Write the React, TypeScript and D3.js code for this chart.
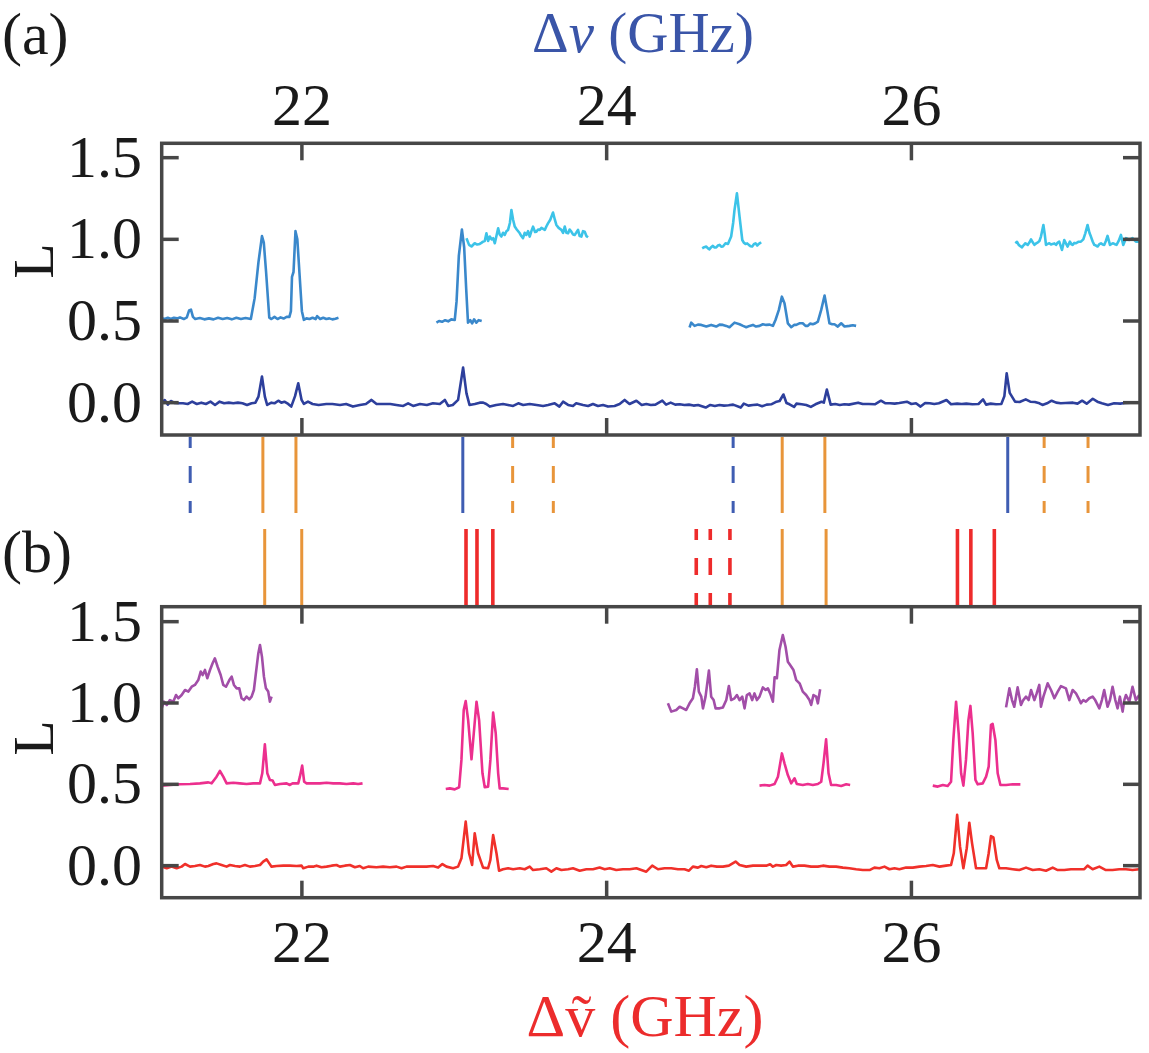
import React from "react";
import * as d3 from "d3";

type P = [number, number];

// ---------- tick values ----------
const xTicks = [22, 24, 26];
const yTicks = [0, 0.5, 1.0, 1.5];
const yTickLabels = ["0.0", "0.5", "1.0", "1.5"];

// ---------- panel (a) traces ----------
const a0Trace: P[] = [
  [21.08,0.0],[21.10,0.016],[21.12,-0.012],[21.14,0.01],[21.165,-0.002],[21.19,-0.004],[21.22,-0.004],[21.25,-0.008],[21.28,0.006],[21.31,-0.008],
  [21.34,0.0],[21.37,-0.008],[21.40,0.006],[21.43,-0.014],[21.46,0.006],[21.49,-0.004],[21.52,0.0],[21.55,-0.004],[21.58,0.0],[21.61,-0.004],
  [21.64,-0.014],[21.67,-0.004],[21.695,0.0],[21.715,0.037],[21.738,0.16],[21.757,0.037],[21.772,-0.014],[21.80,0.0],[21.82,-0.004],[21.845,0.012],
  [21.865,0.0],[21.885,0.006],[21.91,-0.008],[21.93,-0.024],[21.955,0.04],[21.976,0.119],[21.998,0.017],[22.013,-0.008],[22.04,0.006],[22.07,-0.008],
  [22.11,-0.014],[22.16,-0.008],[22.20,-0.008],[22.25,-0.014],[22.29,-0.008],[22.335,-0.024],[22.38,-0.014],[22.42,-0.008],[22.457,0.017],[22.49,-0.008],
  [22.53,-0.008],[22.58,-0.008],[22.62,-0.014],[22.665,-0.02],[22.697,-0.004],[22.73,-0.02],[22.775,-0.008],[22.82,-0.014],[22.86,-0.004],[22.905,-0.008],
  [22.938,0.017],[22.96,-0.02],[22.99,-0.014],[23.025,0.017],[23.058,0.215],[23.08,0.057],[23.10,-0.014],[23.135,-0.008],[23.167,0.0],[23.19,0.0],
  [23.21,-0.008],[23.233,-0.024],[23.275,-0.014],[23.32,-0.008],[23.353,-0.014],[23.386,-0.02],[23.42,-0.004],[23.452,-0.014],[23.495,-0.008],[23.54,-0.014],
  [23.583,-0.02],[23.615,-0.014],[23.659,-0.004],[23.69,-0.024],[23.714,0.006],[23.747,-0.014],[23.779,-0.02],[23.80,-0.004],[23.845,-0.014],[23.878,-0.02],
  [23.91,-0.008],[23.943,-0.02],[23.976,-0.014],[24.009,-0.024],[24.052,-0.02],[24.085,-0.008],[24.118,0.017],[24.15,-0.008],[24.195,0.012],[24.23,-0.014],
  [24.26,-0.008],[24.29,-0.014],[24.32,-0.012],[24.365,0.012],[24.39,-0.012],[24.42,0.0],[24.45,-0.012],[24.48,-0.01],[24.51,-0.014],[24.54,-0.012],
  [24.57,-0.018],[24.60,-0.014],[24.65,-0.03],[24.68,-0.014],[24.71,-0.02],[24.74,-0.014],[24.77,-0.018],[24.80,-0.016],[24.83,-0.012],[24.88,-0.03],
  [24.90,-0.006],[24.93,-0.018],[24.96,-0.014],[24.99,-0.012],[25.02,-0.022],[25.05,-0.012],[25.08,-0.01],[25.115,0.006],[25.135,0.01],[25.16,0.05],
  [25.18,-0.002],[25.20,-0.01],[25.23,-0.026],[25.245,-0.006],[25.28,-0.01],[25.31,-0.014],[25.34,-0.026],[25.37,-0.01],[25.41,0.006],[25.425,0.0],
  [25.445,0.08],[25.47,-0.012],[25.50,-0.008],[25.53,-0.014],[25.56,-0.01],[25.59,-0.012],[25.65,0.0],[25.68,-0.008],[25.72,-0.008],[25.76,-0.01],
  [25.80,0.012],[25.83,-0.004],[25.86,-0.004],[25.89,-0.006],[25.92,-0.002],[25.97,0.006],[26.00,-0.008],[26.03,-0.004],[26.06,-0.024],[26.09,-0.002],
  [26.12,-0.004],[26.15,-0.008],[26.18,-0.004],[26.23,0.016],[26.26,-0.01],[26.30,-0.006],[26.33,-0.008],[26.36,-0.006],[26.40,-0.01],[26.44,-0.008],
  [26.47,0.02],[26.49,-0.012],[26.52,-0.006],[26.555,-0.01],[26.59,-0.008],[26.61,0.04],[26.625,0.18],[26.645,0.06],[26.68,0.006],[26.71,0.004],
  [26.75,0.02],[26.78,0.006],[26.81,0.004],[26.84,-0.004],[26.86,-0.014],[26.89,-0.004],[26.92,0.012],[26.95,0.0],[26.98,-0.004],[27.01,-0.002],
  [27.06,0.0],[27.09,-0.006],[27.12,0.012],[27.15,-0.006],[27.19,0.024],[27.22,0.006],[27.25,-0.004],[27.29,-0.014],[27.33,-0.004],[27.37,-0.006],
  [27.40,-0.002],[27.44,0.0],[27.47,0.002],[27.5,0.0]
];

const a1TraceA: P[] = [
  [21.08,0.517],[21.10,0.512],[21.12,0.52],[21.14,0.512],[21.16,0.52],[21.18,0.516],[21.20,0.522],[21.225,0.512],[21.245,0.522],[21.26,0.565],
  [21.272,0.57],[21.285,0.525],[21.30,0.512],[21.33,0.518],[21.36,0.51],[21.39,0.516],[21.42,0.51],[21.45,0.52],[21.48,0.512],[21.51,0.518],
  [21.54,0.51],[21.57,0.52],[21.60,0.512],[21.63,0.518],[21.665,0.512],[21.69,0.64],[21.715,0.86],[21.738,1.02],[21.75,0.98],[21.765,0.8],
  [21.786,0.52],[21.80,0.512],[21.82,0.525],[21.84,0.512],[21.86,0.522],[21.88,0.515],[21.90,0.525],[21.918,0.525],[21.928,0.56],[21.935,0.77],
  [21.945,0.8],[21.958,1.05],[21.97,1.0],[21.985,0.78],[22.0,0.56],[22.013,0.507],[22.03,0.516],[22.05,0.512],[22.07,0.52],[22.09,0.512],
  [22.10,0.53],[22.12,0.512],[22.14,0.52],[22.16,0.512],[22.18,0.516],[22.20,0.51],[22.22,0.514],[22.24,0.52]
];
const a1TraceB: P[] = [
  [22.883,0.49],[22.90,0.5],[22.92,0.495],[22.94,0.505],[22.96,0.498],[22.98,0.51],[23.003,0.506],[23.015,0.62],[23.03,0.9],[23.05,1.06],
  [23.065,0.95],[23.078,0.7],[23.09,0.49],[23.105,0.505],[23.117,0.485],[23.13,0.51],[23.145,0.49],[23.16,0.505],[23.18,0.5]
];
const a1TraceC: P[] = [
  [24.544,0.46],[24.555,0.49],[24.577,0.47],[24.599,0.478],[24.621,0.476],[24.654,0.466],[24.686,0.476],[24.719,0.466],[24.741,0.478],[24.763,0.476],
  [24.785,0.47],[24.806,0.462],[24.839,0.49],[24.872,0.48],[24.895,0.47],[24.916,0.462],[24.938,0.47],[24.96,0.476],[24.98,0.466],[25.003,0.47],
  [25.025,0.48],[25.047,0.476],[25.07,0.478],[25.091,0.47],[25.108,0.506],[25.13,0.568],[25.15,0.649],[25.167,0.609],[25.189,0.486],[25.211,0.462],
  [25.23,0.476],[25.244,0.476],[25.265,0.486],[25.287,0.486],[25.305,0.47],[25.32,0.47],[25.335,0.484],[25.353,0.48],[25.37,0.486],[25.386,0.496],
  [25.408,0.568],[25.43,0.656],[25.447,0.568],[25.462,0.486],[25.48,0.48],[25.495,0.48],[25.517,0.466],[25.539,0.486],[25.561,0.466],[25.593,0.47],
  [25.615,0.474],[25.637,0.47]
];
const a2TraceA: P[] = [
  [23.08,1.007],[23.097,0.966],[23.113,0.956],[23.134,0.976],[23.15,0.968],[23.167,0.972],[23.18,0.98],[23.189,0.986],[23.2,0.99],[23.211,1.037],
  [23.222,0.99],[23.233,1.017],[23.245,1.0],[23.255,1.007],[23.266,0.976],[23.288,1.068],[23.298,1.03],[23.309,1.017],[23.32,1.04],[23.331,1.027],
  [23.342,1.05],[23.353,1.058],[23.365,1.1],[23.375,1.18],[23.386,1.12],[23.397,1.078],[23.41,1.06],[23.43,1.037],[23.44,1.02],[23.451,1.007],
  [23.462,1.04],[23.473,1.027],[23.484,1.05],[23.495,1.017],[23.506,1.05],[23.517,1.078],[23.53,1.045],[23.539,1.047],[23.55,1.06],[23.561,1.058],
  [23.572,1.07],[23.594,1.058],[23.605,1.08],[23.615,1.098],[23.63,1.12],[23.648,1.164],[23.66,1.12],[23.67,1.088],[23.685,1.07],[23.703,1.058],
  [23.714,1.04],[23.725,1.078],[23.736,1.04],[23.747,1.037],[23.757,1.06],[23.768,1.047],[23.779,1.03],[23.79,1.027],[23.80,1.04],[23.812,1.058],
  [23.823,1.02],[23.834,1.017],[23.845,1.05],[23.856,1.047],[23.867,1.02],[23.878,1.013]
];
const a2TraceB: P[] = [
  [24.627,0.945],[24.64,0.952],[24.654,0.956],[24.665,0.945],[24.675,0.939],[24.686,0.952],[24.697,0.96],[24.708,0.95],[24.719,0.951],[24.73,0.962],
  [24.741,0.966],[24.752,0.955],[24.763,0.956],[24.78,0.976],[24.796,0.972],[24.817,1.017],[24.83,1.1],[24.839,1.18],[24.855,1.282],[24.872,1.139],
  [24.89,0.996],[24.90,0.98],[24.911,0.972],[24.922,0.975],[24.933,0.966],[24.944,0.958],[24.955,0.956],[24.966,0.97],[24.977,0.976],[24.988,0.962],
  [24.999,0.972],[25.014,0.982]
];
const a2TraceC: P[] = [
  [26.682,0.976],[26.693,0.985],[26.704,0.966],[26.715,0.958],[26.726,0.951],[26.737,0.965],[26.748,0.976],[26.756,0.97],[26.763,0.966],[26.774,0.98],
  [26.785,1.0],[26.796,0.982],[26.807,0.966],[26.818,0.975],[26.828,0.98],[26.84,0.99],[26.85,1.017],[26.866,1.088],[26.875,1.03],[26.883,0.966],
  [26.894,0.972],[26.905,0.976],[26.916,0.968],[26.927,0.972],[26.938,0.975],[26.949,0.966],[26.96,0.98],[26.97,0.986],[26.988,0.935],[27.003,0.996],
  [27.014,0.975],[27.025,0.956],[27.04,0.986],[27.05,0.97],[27.058,0.966],[27.069,0.978],[27.08,0.976],[27.095,0.985],[27.112,0.986],[27.128,1.0],
  [27.141,1.037],[27.156,1.088],[27.168,1.04],[27.178,1.017],[27.19,0.985],[27.2,0.966],[27.211,0.962],[27.222,0.956],[27.233,0.97],[27.244,0.976],
  [27.255,0.968],[27.265,0.966],[27.276,0.99],[27.287,1.021],[27.303,0.966],[27.314,0.972],[27.324,0.976],[27.335,0.97],[27.346,0.966],[27.36,0.99],
  [27.375,1.027],[27.39,0.966],[27.408,1.007],[27.43,0.996],[27.451,1.007],[27.473,0.986],[27.495,0.986]
];

// ---------- panel (b) traces ----------
const b0Trace: P[] = [
  [21.08,-0.006],[21.113,-0.016],[21.145,-0.006],[21.178,-0.016],[21.211,-0.006],[21.233,0.01],[21.266,-0.006],[21.298,-0.002],[21.331,0.004],[21.364,-0.006],
  [21.386,-0.002],[21.419,0.01],[21.44,0.014],[21.473,0.004],[21.506,-0.006],[21.528,0.004],[21.561,-0.002],[21.593,-0.006],[21.626,0.004],[21.659,-0.006],
  [21.692,-0.002],[21.725,0.004],[21.746,0.025],[21.768,0.039],[21.786,0.014],[21.801,-0.006],[21.834,-0.002],[21.878,0.0],[21.921,0.0],[21.965,-0.002],
  [21.998,0.0],[22.009,-0.016],[22.042,-0.006],[22.074,-0.006],[22.096,0.0],[22.129,-0.01],[22.162,-0.006],[22.195,0.0],[22.227,0.004],[22.249,-0.006],
  [22.282,0.0],[22.315,0.004],[22.348,-0.01],[22.38,-0.002],[22.402,-0.016],[22.435,-0.006],[22.489,-0.01],[22.533,-0.006],[22.577,-0.01],[22.621,-0.006],
  [22.654,-0.016],[22.686,-0.006],[22.73,-0.006],[22.774,-0.006],[22.818,-0.006],[22.861,-0.002],[22.894,-0.012],[22.922,0.01],[22.949,-0.006],[22.992,-0.016],
  [23.025,-0.006],[23.047,0.045],[23.075,0.271],[23.097,0.076],[23.117,0.004],[23.134,0.199],[23.156,0.076],[23.189,-0.012],[23.222,-0.016],[23.237,0.035],
  [23.255,0.188],[23.277,0.076],[23.294,-0.031],[23.32,-0.022],[23.353,-0.016],[23.386,-0.022],[23.43,-0.016],[23.462,-0.022],[23.495,-0.006],[23.517,-0.027],
  [23.561,-0.022],[23.604,-0.016],[23.637,-0.037],[23.67,-0.016],[23.703,-0.027],[23.747,-0.022],[23.779,-0.016],[23.823,-0.031],[23.867,-0.022],[23.91,-0.022],
  [23.954,-0.012],[23.987,-0.022],[24.02,-0.016],[24.063,-0.027],[24.107,-0.022],[24.151,-0.022],[24.195,-0.016],[24.26,-0.037],[24.299,0.0],[24.337,-0.022],
  [24.38,-0.016],[24.424,-0.016],[24.468,-0.022],[24.511,-0.022],[24.54,-0.031],[24.566,-0.006],[24.599,-0.012],[24.621,-0.002],[24.654,-0.01],[24.686,0.0],
  [24.723,-0.006],[24.763,-0.006],[24.802,0.0],[24.846,0.025],[24.872,0.004],[24.916,-0.006],[24.96,0.0],[25.003,0.0],[25.047,0.0],[25.073,0.008],
  [25.091,-0.006],[25.113,0.004],[25.145,0.0],[25.178,0.004],[25.2,0.025],[25.222,-0.006],[25.255,0.0],[25.298,0.0],[25.342,-0.006],[25.386,-0.006],
  [25.419,0.0],[25.462,-0.006],[25.506,-0.006],[25.55,-0.012],[25.593,-0.016],[25.637,-0.022],[25.681,-0.027],[25.725,-0.027],[25.757,-0.012],[25.79,-0.016],
  [25.823,-0.006],[25.856,-0.022],[25.889,-0.016],[25.921,-0.022],[25.965,-0.012],[26.009,-0.012],[26.052,-0.006],[26.096,-0.002],[26.14,0.004],[26.184,-0.006],
  [26.227,0.0],[26.26,0.004],[26.278,0.076],[26.3,0.312],[26.319,0.117],[26.341,-0.016],[26.363,0.107],[26.38,0.264],[26.398,0.137],[26.424,-0.016],
  [26.49,-0.016],[26.507,0.076],[26.522,0.182],[26.538,0.174],[26.56,0.035],[26.577,-0.016],[26.621,-0.016],[26.665,-0.022],[26.708,-0.027],[26.752,-0.012],
  [26.796,-0.027],[26.839,-0.022],[26.883,-0.031],[26.927,-0.012],[26.96,-0.027],[27.003,-0.027],[27.047,-0.022],[27.091,-0.022],[27.134,-0.022],[27.156,0.0],
  [27.189,-0.022],[27.233,-0.006],[27.276,-0.027],[27.32,-0.027],[27.364,-0.022],[27.408,-0.022],[27.451,-0.027],[27.495,-0.022]
];
const b1TraceA: P[] = [
  [21.08,0.492],[21.134,0.496],[21.2,0.5],[21.266,0.502],[21.331,0.506],[21.386,0.512],[21.408,0.506],[21.44,0.547],[21.462,0.582],[21.484,0.547],
  [21.506,0.506],[21.55,0.51],[21.593,0.506],[21.637,0.502],[21.681,0.506],[21.725,0.506],[21.74,0.568],[21.757,0.746],[21.773,0.568],[21.79,0.527],
  [21.808,0.523],[21.823,0.496],[21.856,0.502],[21.9,0.506],[21.921,0.496],[21.939,0.506],[21.976,0.506],[21.987,0.547],[22.002,0.615],[22.015,0.516],
  [22.031,0.506],[22.074,0.506],[22.118,0.506],[22.162,0.51],[22.205,0.506],[22.249,0.506],[22.293,0.502],[22.337,0.506],[22.369,0.502],[22.398,0.506]
];
const b1TraceB: P[] = [
  [22.944,0.471],[22.971,0.475],[23.003,0.469],[23.032,0.482],[23.047,0.65],[23.062,0.957],[23.075,1.012],[23.091,0.895],[23.113,0.654],[23.128,0.814],
  [23.146,1.008],[23.163,0.895],[23.185,0.568],[23.2,0.482],[23.222,0.486],[23.237,0.65],[23.255,0.941],[23.272,0.814],[23.288,0.568],[23.298,0.475],
  [23.32,0.475],[23.357,0.471]
];
const b1TraceC: P[] = [
  [25.003,0.492],[25.036,0.496],[25.069,0.492],[25.102,0.502],[25.124,0.547],[25.15,0.69],[25.167,0.629],[25.189,0.557],[25.211,0.506],[25.233,0.537],
  [25.248,0.502],[25.287,0.496],[25.32,0.502],[25.353,0.496],[25.386,0.502],[25.408,0.516],[25.423,0.629],[25.44,0.777],[25.456,0.568],[25.473,0.496],
  [25.506,0.496],[25.539,0.49],[25.572,0.5],[25.598,0.496]
];
const b1TraceD: P[] = [
  [26.14,0.492],[26.173,0.486],[26.206,0.496],[26.238,0.49],[26.26,0.516],[26.275,0.773],[26.293,1.008],[26.31,0.814],[26.326,0.568],[26.341,0.492],
  [26.358,0.65],[26.374,0.895],[26.387,0.982],[26.402,0.814],[26.42,0.527],[26.435,0.5],[26.468,0.506],[26.49,0.547],[26.507,0.609],[26.522,0.865],
  [26.533,0.871],[26.551,0.773],[26.566,0.568],[26.584,0.496],[26.621,0.496],[26.665,0.5],[26.715,0.5]
];
const b2TraceA: P[] = [
  [21.08,0.967],[21.095,1.008],[21.113,0.988],[21.134,1.018],[21.156,1.008],[21.174,1.049],[21.189,1.029],[21.211,1.049],[21.233,1.08],[21.255,1.07],
  [21.277,1.1],[21.298,1.111],[21.32,1.141],[21.336,1.193],[21.349,1.172],[21.364,1.203],[21.379,1.152],[21.397,1.203],[21.414,1.244],[21.429,1.274],
  [21.447,1.223],[21.467,1.172],[21.484,1.111],[21.502,1.1],[21.524,1.141],[21.539,1.162],[21.554,1.111],[21.572,1.09],[21.589,1.09],[21.604,1.029],
  [21.62,1.018],[21.637,1.039],[21.655,1.022],[21.67,1.039],[21.685,1.08],[21.698,1.182],[21.714,1.305],[21.725,1.356],[21.738,1.285],[21.751,1.162],
  [21.764,1.09],[21.779,1.07],[21.79,1.008],[21.801,1.039]
];
const b2TraceB: P[] = [
  [24.402,0.998],[24.424,0.947],[24.457,0.957],[24.479,0.977],[24.501,0.967],[24.522,0.957],[24.544,0.998],[24.566,1.029],[24.579,1.1],[24.592,1.207],
  [24.605,1.07],[24.621,1.039],[24.632,0.967],[24.649,1.039],[24.671,1.199],[24.686,1.039],[24.702,1.018],[24.715,0.967],[24.741,0.967],[24.763,0.973],
  [24.785,1.018],[24.802,1.104],[24.817,1.018],[24.839,1.029],[24.855,1.049],[24.872,1.018],[24.89,1.039],[24.905,0.967],[24.92,1.049],[24.938,1.059],
  [24.955,1.018],[24.97,1.059],[24.986,1.018],[25.003,1.039],[25.025,1.096],[25.043,1.08],[25.058,1.09],[25.073,1.059],[25.091,1.008],[25.102,1.158],
  [25.117,1.152],[25.134,1.326],[25.156,1.418],[25.174,1.346],[25.189,1.254],[25.204,1.233],[25.226,1.203],[25.244,1.141],[25.266,1.121],[25.287,1.07],
  [25.309,1.049],[25.331,1.018],[25.342,0.988],[25.357,1.049],[25.375,1.039],[25.386,0.998],[25.401,1.084]
];
const b2TraceC: P[] = [
  [26.621,0.973],[26.643,1.09],[26.66,1.018],[26.675,0.977],[26.697,1.096],[26.719,0.988],[26.734,1.018],[26.752,1.039],[26.769,1.018],[26.785,1.08],
  [26.807,1.018],[26.822,1.059],[26.839,1.111],[26.85,0.977],[26.866,1.039],[26.894,1.121],[26.916,1.08],[26.938,1.029],[26.96,1.07],[26.981,1.104],
  [27.014,1.09],[27.036,1.018],[27.058,1.08],[27.08,1.059],[27.097,1.029],[27.112,0.998],[27.128,1.018],[27.145,1.008],[27.167,1.029],[27.189,1.039],
  [27.206,1.018],[27.233,0.967],[27.25,1.018],[27.265,1.08],[27.287,0.977],[27.303,1.018],[27.32,1.1],[27.338,1.018],[27.353,0.967],[27.368,1.039],
  [27.386,0.947],[27.397,1.018],[27.408,1.049],[27.43,1.008],[27.451,1.1],[27.473,1.018],[27.495,1.049]
];

// ---------- transition markers ----------
const rowABlueSolid = [23.056, 26.632];
const rowABlueDashed = [21.267, 24.83];
const rowAOrangeSolid = [21.744, 21.961, 25.152, 25.432];
const rowAOrangeDashed = [23.383, 23.65, 26.871, 27.159];
const rowBOrangeSolid = [21.756, 21.999, 25.152, 25.44];
const rowBRedSolid = [23.077, 23.149, 23.253, 26.302, 26.39, 26.544];
const rowBRedDashed = [24.588, 24.68, 24.809];

// ---------- styles ----------
const FONT = "'Liberation Serif', 'Times New Roman', Times, serif";
const AXIS = "#474747";
const C_NAVY = "#2d3f9c";
const C_MID = "#3a88cb";
const C_CYAN = "#3cc3e8";
const C_RED = "#f0302a";
const C_PINK = "#ec2f8e";
const C_PURPLE = "#a24ea8";
const C_MBLUE = "#3f5db2";
const C_ORANGE = "#e8953a";
const C_MRED = "#ee2b2b";

const LEFT = 161.7;
const RIGHT = 1140;
const A_TOP = 143.3, A_BOT = 435;
const B_TOP = 606.7, B_BOT = 897.7;
const TICK = 17;
const FS = 60;

const x = d3.scaleLinear().domain([21.08, 27.5]).range([LEFT, RIGHT]);
const yA = d3.scaleLinear().domain([-0.198, 1.588]).range([A_BOT, A_TOP]);
const yB = d3.scaleLinear().domain([-0.197, 1.592]).range([B_BOT, B_TOP]);

function Trace({ data, y, color }: { data: P[]; y: d3.ScaleLinear<number, number>; color: string }) {
  const line = d3.line<P>().x((d) => x(d[0])).y((d) => y(d[1]));
  return <path d={line(data) || ""} fill="none" stroke={color} strokeWidth={2.6} strokeLinejoin="round" />;
}

function Frame({ y, top, bot }: { y: d3.ScaleLinear<number, number>; top: number; bot: number }) {
  return (
    <g stroke={AXIS} strokeWidth={3.5} fill="none">
      {xTicks.map((t) => (
        <g key={"xt" + t}>
          <line x1={x(t)} x2={x(t)} y1={top} y2={top + TICK} />
          <line x1={x(t)} x2={x(t)} y1={bot} y2={bot - TICK} />
        </g>
      ))}
      {yTicks.map((t) => (
        <g key={"yt" + t}>
          <line x1={LEFT} x2={LEFT + TICK} y1={y(t)} y2={y(t)} />
          <line x1={RIGHT} x2={RIGHT - TICK} y1={y(t)} y2={y(t)} />
        </g>
      ))}
      <rect x={LEFT} y={top} width={RIGHT - LEFT} height={bot - top} strokeLinejoin="miter" />
    </g>
  );
}

function YLabels({ y }: { y: d3.ScaleLinear<number, number> }) {
  return (
    <g fontFamily={FONT} fontSize={FS} fill="#1a1a1a" textAnchor="end">
      {yTicks.map((t, i) => (
        <text key={t} x={142} y={y(t) + 19}>{yTickLabels[i]}</text>
      ))}
    </g>
  );
}

function Markers({ xs, y1, y2, color, width, dashed }: { xs: number[]; y1: number; y2: number; color: string; width: number; dashed?: boolean }) {
  return (
    <g stroke={color} strokeWidth={width}>
      {xs.map((v) => (
        <line key={v} x1={x(v)} x2={x(v)} y1={y1} y2={y2}
          strokeDasharray={dashed ? "17 18" : undefined} strokeDashoffset={dashed ? 6 : undefined} />
      ))}
    </g>
  );
}

export default function App() {
  const rowA = [437, 513];
  const rowB = [529, 605];
  return (
    <svg width={1149} height={1053} style={{ display: "block", position: "absolute", left: 0, top: 0, background: "#fff" }}>
      <rect x={0} y={0} width={1149} height={1053} fill="#fff" />
      {/* panel labels */}
      <text x={2} y={54} fontFamily={FONT} fontSize={FS} fill="#1a1a1a">(a)</text>
      <text x={2} y={572} fontFamily={FONT} fontSize={FS} fill="#1a1a1a">(b)</text>

      {/* top axis title */}
      <text x={643} y={52} fontFamily={FONT} fontSize={57} fill="#3a55a8" textAnchor="middle">
        Δ<tspan fontStyle="italic">ν</tspan> (GHz)
      </text>
      {/* tick labels */}
      <g fontFamily={FONT} fontSize={FS} fill="#1a1a1a" textAnchor="middle">
        {xTicks.map((t) => (
          <text key={"tl" + t} x={x(t)} y={125}>{t}</text>
        ))}
        {xTicks.map((t) => (
          <text key={"bl" + t} x={x(t)} y={962}>{t}</text>
        ))}
      </g>
      {/* bottom axis title */}
      <text x={645} y={1036} fontFamily={FONT} fontSize={FS} fill="#ec2c2c" textAnchor="middle">Δṽ (GHz)</text>

      {/* y axis labels */}
      <text transform={`translate(53,261) rotate(-90)`} fontFamily={FONT} fontSize={58} fill="#1a1a1a" textAnchor="middle">L</text>
      <text transform={`translate(53,738) rotate(-90)`} fontFamily={FONT} fontSize={58} fill="#1a1a1a" textAnchor="middle">L</text>

      {/* panel (a) */}
      <Trace data={a0Trace} y={yA} color={C_NAVY} />
      <Trace data={a1TraceA} y={yA} color={C_MID} />
      <Trace data={a1TraceB} y={yA} color={C_MID} />
      <Trace data={a1TraceC} y={yA} color={C_MID} />
      <Trace data={a2TraceA} y={yA} color={C_CYAN} />
      <Trace data={a2TraceB} y={yA} color={C_CYAN} />
      <Trace data={a2TraceC} y={yA} color={C_CYAN} />
      <Frame y={yA} top={A_TOP} bot={A_BOT} />
      <YLabels y={yA} />

      {/* markers */}
      <Markers xs={rowABlueSolid} y1={rowA[0]} y2={rowA[1]} color={C_MBLUE} width={3} />
      <Markers xs={rowABlueDashed} y1={rowA[0]} y2={rowA[1]} color={C_MBLUE} width={3} dashed />
      <Markers xs={rowAOrangeSolid} y1={rowA[0]} y2={rowA[1]} color={C_ORANGE} width={3} />
      <Markers xs={rowAOrangeDashed} y1={rowA[0]} y2={rowA[1]} color={C_ORANGE} width={3} dashed />
      <Markers xs={rowBOrangeSolid} y1={rowB[0]} y2={rowB[1]} color={C_ORANGE} width={3} />
      <Markers xs={rowBRedSolid} y1={rowB[0]} y2={rowB[1]} color={C_MRED} width={3.6} />
      <Markers xs={rowBRedDashed} y1={rowB[0]} y2={rowB[1]} color={C_MRED} width={3.6} dashed />

      {/* panel (b) */}
      <Trace data={b0Trace} y={yB} color={C_RED} />
      <Trace data={b1TraceA} y={yB} color={C_PINK} />
      <Trace data={b1TraceB} y={yB} color={C_PINK} />
      <Trace data={b1TraceC} y={yB} color={C_PINK} />
      <Trace data={b1TraceD} y={yB} color={C_PINK} />
      <Trace data={b2TraceA} y={yB} color={C_PURPLE} />
      <Trace data={b2TraceB} y={yB} color={C_PURPLE} />
      <Trace data={b2TraceC} y={yB} color={C_PURPLE} />
      <Frame y={yB} top={B_TOP} bot={B_BOT} />
      <YLabels y={yB} />
    </svg>
  );
}
